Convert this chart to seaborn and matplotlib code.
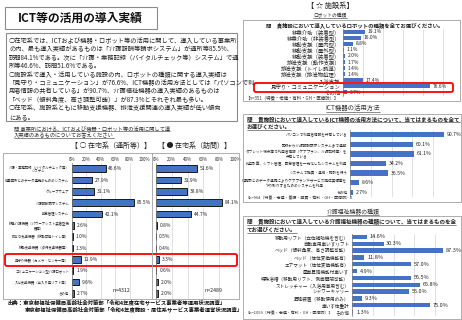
import pandas as pd
import seaborn as sns
import matplotlib.pyplot as plt
from matplotlib.patches import Rectangle, FancyBboxPatch
from matplotlib.lines import Line2D

sns.set_theme(style="white")
plt.rcParams['font.family'] = ['Noto Sans CJK JP', 'DejaVu Sans']

# ---- データ ----
zaitaku_items = [
    "介護・業務記録（バイタルチェック等）\nシステム",
    "他事業所とのデータ連携のためのシステム",
    "グループウェア",
    "介護報酬請求システム",
    "勤怠管理システム",
    "移乗介護機器（パワーアシスト装着型機\n器等）",
    "排せつ支援機器（移動可能トイレ等）",
    "移動支援機器（歩行支援機器等）",
    "見守り機器（カメラ・センサー等）",
    "コミュニケーション型介護ロボット",
    "入浴支援機器（出入り用リフト等）",
    "その他",
]
tsusho_pct = [46.6, 27.9, 31.1, 85.5, 42.1, 2.6, 1.0, 1.3, 11.9, 1.9, 9.6, 2.7]
houmon_pct = [51.6, 31.9, 38.8, 84.1, 44.7, 0.8, 0.5, 0.4, 3.3, 0.6, 2.0, 2.0]

robot_items = [
    "移乗介助（装着型）", "移乗介助（非装着型）", "移動支援（屋内型）",
    "移動支援（屋外型）", "移動支援（装着型）", "排泄支援（動作支援）",
    "排泄支援（トイレ誘導）", "排泄支援（排泄物処理）", "入浴支援",
    "見守り・コミュニケーション", "その他",
]
robot_pct = [19.1, 16.0, 8.8, 1.1, 2.0, 1.7, 1.4, 1.4, 17.4, 76.6, 3.7]

ict_items = [
    "パソコンで利用者情報を共有している",
    "記録から介護報酬請求システムまで連動",
    "タブレット端末等で利用者情報（ケアプラン、介護記録等）を\n共有している",
    "給与計算、シフト管理、勤怠管理を一元化したシステムを利用",
    "システムで職員・連絡・相談を行う",
    "他施設とのデータ連携によりケアプランやサービス提供実績等を\nやり取りするためのシステムを利用",
    "その他",
]
ict_pct = [90.7, 60.1, 61.1, 34.2, 36.5, 8.6, 2.7]

kiki_items = [
    "移動用リフト（立位補助機を含む）", "自動車用車いすリフト",
    "ベッド（傾斜角度、高さ調整可能）", "ベッド（体位変換機能有）",
    "エアマット（体位変換機能有）", "座面昇降機能付車いす",
    "特殊浴槽（移動用リフト、側面開閉可能）", "ストレッチャー（入浴用兼用含む）",
    "シャワーキャリー", "昇降装置（移動使用のみ）", "車いす体重計", "その他",
]
kiki_pct = [14.6, 30.3, 87.3, 11.8, 57.0, 4.9, 56.5, 65.8, 55.0, 9.3, 75.0, 1.3]

BLUE = '#4472C4'
GRAY = '#9a9a9a'
W, H = 462, 320
fig = plt.figure(figsize=(W / 100, H / 100), dpi=100)
TR = fig.dpi_scale_trans


def P(x, y):
    return x / 100, (H - y) / 100


def add_ax(x0, y0, x1, y1):
    return fig.add_axes([x0 / W, 1 - y1 / H, (x1 - x0) / W, (y1 - y0) / H])


def txt(x, y, s, size, **kw):
    kw.setdefault('va', 'center')
    return fig.text(*P(x, y), s, fontsize=size, transform=TR, **kw)


def rect(x0, y0, x1, y1, ec=GRAY, lw=0.7, rounded=False):
    if rounded:
        p = FancyBboxPatch(P(x0, y1), (x1 - x0) / 100, (y1 - y0) / 100,
                           boxstyle="round,pad=0,rounding_size=0.02",
                           transform=TR, fill=False, ec=ec, lw=lw)
    else:
        p = Rectangle(P(x0, y1), (x1 - x0) / 100, (y1 - y0) / 100,
                      transform=TR, fill=False, ec=ec, lw=lw)
    fig.add_artist(p)


def underline(t, color='#333333'):
    bb = t.get_window_extent(fig.canvas.get_renderer())
    y = (bb.y0 - 0.3) / 100
    fig.add_artist(Line2D([bb.x0 / 100, bb.x1 / 100], [y, y], transform=TR,
                          lw=0.4, color=color))


def hbar(ax, items, vals, label_size, value_size, width=0.6, edge=False,
         step=20, show_labels=True):
    df = pd.DataFrame({'item': items, 'pct': vals})
    sns.barplot(data=df, x='pct', y='item', ax=ax, color=BLUE, saturation=1,
                width=width, edgecolor='#1a1a1a' if edge else BLUE,
                linewidth=0.7 if edge else 0)
    ax.bar_label(ax.containers[0], labels=[f'{v:.1f}%' for v in vals],
                 padding=2, fontsize=value_size, color='#222222')
    ax.set_xlim(0, 100)
    ax.set_ylim(len(items) - 0.5, -0.5)
    ax.set_xticks([i * step for i in range(int(100 / step) + 1)])
    ax.grid(axis='x', color='#d4d4d4', lw=0.5)
    ax.set_axisbelow(True)
    ax.set_xlabel('')
    ax.set_ylabel('')
    for s in ax.spines.values():
        s.set_visible(False)
    ax.spines['left'].set_visible(True)
    ax.spines['left'].set_color('#808080')
    ax.spines['left'].set_linewidth(0.5)
    ax.tick_params(axis='y', length=0, pad=2, labelsize=label_size)
    if not show_labels:
        ax.set_yticklabels([])
    ax.set_facecolor('none')


# ---- 左側 ----
rect(5, 7, 157, 29, ec='#8c8c8c', lw=0.8)
txt(18, 18, "ICT等の活用の導入実績", 8.5, fontweight='bold', color='#111111')

rect(6, 33, 237, 121, ec='#8c8c8c', lw=0.8)
para = [
    "○在宅系では、ICTおよび機器・ロボット等の活用に関して、導入している事業所",
    "の内、最も導入実績があるものは「介護報酬等請求システム」が通所等85.5%、",
    "訪問84.1%である。次に「介護・業務記録（バイタルチェック等）システム」で通",
    "所等46.6%、訪問51.6%である。",
    "○施設系で導入・活用している施設の内、ロボットの種類に関する導入実績は",
    "「見守り・コミュニケーション」が76.6%、ICT機器の活用方法としては「パソコンで利",
    "用者情報の共有している」が90.7%、介護福祉機器の導入実績のあるものは",
    "「ベッド（傾斜角度、高さ調整可能）」が87.3%とそれぞれ最も多い。",
    "○在宅系、施設系ともに移動支援機器、排泄支援関連の導入実績が低い傾向",
    "にある。",
]
for i, line in enumerate(para):
    txt(9, 41 + 8.45 * i, line, 4.5, color='#222222')

q1 = txt(14, 128, "問 事業所における、ICTおよび機器・ロボット等の活用に関して導", 3.8, color='#333333')
q2 = txt(14, 135, "入実績のあるものについてお答えください", 3.8, color='#333333')
underline(q1)
underline(q2)

txt(111, 146, "【 ○ 在宅系（通所等）】", 5, ha='center', color='#222222')
txt(195, 146, "【 ● 在宅系（訪問）】", 5, ha='center', color='#222222')

rect(3, 153, 239, 299, ec='#a0a0a0', lw=0.6)
fig.add_artist(Line2D([1.52, 1.52], [(H - 153) / 100, (H - 299) / 100],
                      transform=TR, lw=0.6, color='#a0a0a0'))

ax1 = add_ax(72, 163, 144, 299)
hbar(ax1, zaitaku_items, tsusho_pct, 2.45, 3.5, width=0.6, edge=True)
ax2 = add_ax(156, 163, 235, 299)
hbar(ax2, zaitaku_items, houmon_pct, 2.45, 3.5, width=0.6, edge=True, show_labels=False)
ax2.tick_params(axis='y', length=2, width=0.4, color='#808080')
for ax in (ax1, ax2):
    ax.xaxis.tick_top()
    ax.set_xticklabels([f'{t}%' for t in range(0, 101, 20)])
    ax.tick_params(axis='x', length=0, pad=1, labelsize=3.2)
for lab in ax1.get_yticklabels():
    lab.set_multialignment('center')

txt(113, 291, "n=4312", 3.8, color='#222222')
txt(205, 291, "n=2489", 3.8, color='#222222')
rect(5, 254, 237, 266, ec='#ff0000', lw=1.3, rounded=True)

txt(8, 302, "出典：東京都福祉保健局高齢社会対策部「令和4年度在宅サービス事業者等運用状況調査」",
    3.9, fontweight='bold', color='#111111')
txt(25, 309, "東京都福祉保健局高齢社会対策部「令和4年度施設・居住系サービス事業者運営状況調査」",
    3.9, fontweight='bold', color='#111111')

# ---- 右側：施設系 ----
txt(330, 6, "【 ☆ 施設系】", 5.2, ha='center', color='#222222')
t = txt(330, 15, "ロボットの種類", 3.4, ha='center', color='#333333')
underline(t)
rect(243, 20, 460, 101, ec='#a0a0a0', lw=0.6)
txt(266, 25, "問　貴施設において導入しているロボットの種類を全てお選びください。",
    3.9, fontweight='bold', color='#222222')
ax3 = add_ax(343, 28.5, 457, 95.5)
hbar(ax3, robot_items, robot_pct, 3.9, 3.5, width=0.65, step=17.5)
ax3.set_xticklabels([])
ax3.tick_params(axis='x', length=0)
txt(245, 98, "【n=351（特養・老健・有料・GH・医療院）】", 3.2, color='#333333')
rect(254, 83, 453, 92, ec='#ff0000', lw=1.3, rounded=True)

t = txt(353, 108, "ICT機器の活用方法", 4.6, ha='center', color='#333333')
underline(t)
rect(243, 114, 461, 202, ec='#a0a0a0', lw=0.6)
q = txt(247, 119, "問　貴施設において導入しているICT機器の活用方法について、当てはまるものを全て",
        4.0, fontweight='bold', color='#222222')
underline(q)
q = txt(247, 127, "お選びください。", 4.0, fontweight='bold', color='#222222')
underline(q)
ax4 = add_ax(350, 130, 454, 197)
hbar(ax4, ict_items, ict_pct, 2.6, 3.7, width=0.55)
ax4.set_xticklabels([])
ax4.tick_params(axis='x', length=0)
for lab in ax4.get_yticklabels():
    lab.set_multialignment('center')
txt(245, 198, "【n=964（特養・老健・養護・軽費・有料・GH・医療院）】", 2.9, color='#333333')

t = txt(353, 212, "介護福祉機器の種類", 4.2, ha='center', color='#333333')
underline(t)
rect(243, 216, 461, 319, ec='#a0a0a0', lw=0.6)
q = txt(247, 222, "問　貴施設において導入している介護福祉機器の種類について、当てはまるものを全",
        4.0, fontweight='bold', color='#222222')
underline(q)
q = txt(247, 230, "てお選びください。", 4.0, fontweight='bold', color='#222222')
underline(q)
ax5 = add_ax(352, 233.5, 456, 315.5)
hbar(ax5, kiki_items, kiki_pct, 3.3, 4.0, width=0.65)
ax5.set_xticklabels([])
ax5.tick_params(axis='x', length=0)
txt(245, 313, "【n=1059（特養・老健・有料・GH・医療院）】", 2.9, color='#333333')

fig.savefig("out.png", dpi=100, facecolor='white')
